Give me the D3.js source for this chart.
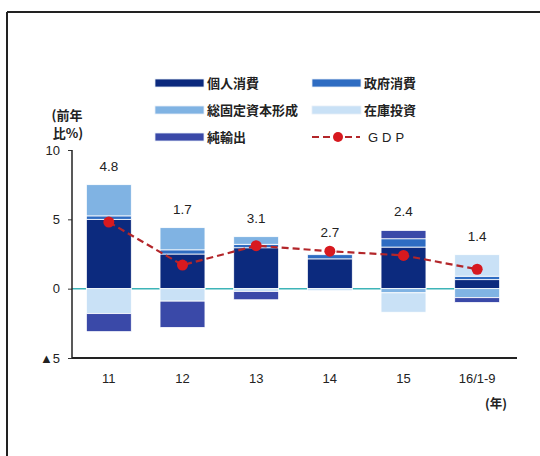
<!DOCTYPE html>
<html>
<head>
<meta charset="utf-8">
<script src="https://cdn.jsdelivr.net/npm/d3@7"></script>
<style>
  body { margin: 0; background: #fff; }
  svg { display: block; }
  .tick text { font-family: "Liberation Sans", Arial, sans-serif; font-size: 13px; fill: #222; }
</style>
</head>
<body>
<svg id="chart" width="540" height="456"></svg>
<script>
// categories & series (前年比%, 寄与度)
const years = ["11", "12", "13", "14", "15", "16/1-9"];
const personal = [5.0, 2.5, 2.95, 2.15, 3.0, 0.65];     // 個人消費
const government = [0.25, 0.3, 0.25, 0.3, 0.6, 0.25];   // 政府消費
const gfcf = [2.25, 1.6, 0.55, 0, -0.3, -0.65];         // 総固定資本形成
const inventory = [-1.8, -0.9, -0.2, -0.15, -1.4, 1.55]; // 在庫投資
const netExports = [-1.3, -1.9, -0.6, 0, 0.6, -0.35];   // 純輸出
const gdp = [4.8, 1.7, 3.1, 2.7, 2.4, 1.4];
const yTicks = [-5, 0, 5, 10];

const keys = ["個人消費", "政府消費", "総固定資本形成", "在庫投資", "純輸出"];
const colors = {
  "個人消費": "#0c2a7e",
  "政府消費": "#2e6cc2",
  "総固定資本形成": "#80b3e3",
  "在庫投資": "#c9e1f6",
  "純輸出": "#3a49a8",
};

const rows = years.map((yr, i) => ({
  year: yr,
  "個人消費": personal[i],
  "政府消費": government[i],
  "総固定資本形成": gfcf[i],
  "在庫投資": inventory[i],
  "純輸出": netExports[i],
  gdp: gdp[i],
}));

const svg = d3.select("#chart");
const jp = `"Noto Sans CJK JP", "Noto Sans", sans-serif`;
const latin = `"Liberation Sans", Arial, sans-serif`;

// frame
svg.append("line").attr("x1", 7).attr("y1", 12).attr("x2", 540).attr("y2", 12)
  .attr("stroke", "#222").attr("stroke-width", 2);
svg.append("line").attr("x1", 7).attr("y1", 12).attr("x2", 7).attr("y2", 456)
  .attr("stroke", "#222").attr("stroke-width", 2);

const x = d3.scaleBand().domain(years).range([72, 514])
  .paddingInner(0.39).paddingOuter(0.195);
const y = d3.scaleLinear().domain([-5, 10]).range([358, 150]);

const series = d3.stack().keys(keys).offset(d3.stackOffsetDiverging)(rows);

// zero line
svg.append("line")
  .attr("x1", 72).attr("x2", x(years[years.length - 1]) + x.bandwidth())
  .attr("y1", y(0)).attr("y2", y(0))
  .attr("stroke", "#3db4b8").attr("stroke-width", 1.5);

// bars
svg.append("g").selectAll("g").data(series).join("g")
  .attr("fill", (s) => colors[s.key])
  .selectAll("rect").data((s) => s).join("rect")
  .attr("x", (d) => x(d.data.year))
  .attr("width", x.bandwidth())
  .attr("y", (d) => y(Math.max(d[0], d[1])))
  .attr("height", (d) => Math.abs(y(d[0]) - y(d[1])))
  .attr("stroke", "#fff").attr("stroke-width", 0.8);

// axes
const yAxisG = svg.append("g").attr("transform", "translate(72,0)")
  .call(d3.axisLeft(y).tickValues(yTicks).tickSize(4).tickPadding(8)
    .tickFormat((d) => (d < 0 ? "▲" + Math.abs(d) : d)));
yAxisG.select(".domain").remove();
yAxisG.selectAll(".tick line").attr("stroke", "#333");
svg.append("line").attr("x1", 72).attr("x2", 72).attr("y1", y(10)).attr("y2", y(-5))
  .attr("stroke", "#222").attr("stroke-width", 1.5);

const xAxisG = svg.append("g").attr("transform", `translate(0,${y(-5)})`)
  .call(d3.axisBottom(x).tickSize(0).tickPadding(16));
xAxisG.select(".domain").remove();
svg.append("line").attr("x1", 72).attr("x2", 517).attr("y1", y(-5)).attr("y2", y(-5))
  .attr("stroke", "#222").attr("stroke-width", 2);

svg.append("text").attr("x", 496).attr("y", 408).attr("text-anchor", "middle")
  .style("font-family", jp).style("font-size", "12.5px").style("font-weight", 700)
  .attr("fill", "#222").text("(年)");

svg.append("text").attr("x", 67).attr("y", 120).attr("text-anchor", "middle")
  .style("font-family", jp).style("font-size", "13px").style("font-weight", 700)
  .attr("fill", "#222").text("(前年");
svg.append("text").attr("x", 68).attr("y", 138).attr("text-anchor", "middle")
  .style("font-family", jp).style("font-size", "13px").style("font-weight", 700)
  .attr("fill", "#222").text("比%)");

// GDP line
const cx = (d) => x(d.year) + x.bandwidth() / 2;
svg.append("path").datum(rows)
  .attr("fill", "none").attr("stroke", "#b3262a").attr("stroke-width", 2.2)
  .attr("stroke-dasharray", "7,4")
  .attr("d", d3.line().x(cx).y((d) => y(d.gdp)));
svg.append("g").selectAll("circle").data(rows).join("circle")
  .attr("cx", cx).attr("cy", (d) => y(d.gdp)).attr("r", 5.5)
  .attr("fill", "#d7191f");

// value labels
const topOf = (i) => d3.max(series, (s) => s[i][1]);
svg.append("g").selectAll("text").data(rows).join("text")
  .attr("x", cx)
  .attr("y", (d, i) => y(Math.max(topOf(i), d.gdp)) - 14)
  .attr("text-anchor", "middle")
  .style("font-family", latin).style("font-size", "13.5px")
  .attr("fill", "#222")
  .text((d) => d3.format(".1f")(d.gdp));

// legend
const legendItems = [
  { key: "個人消費", x: 155, y: 83 },
  { key: "政府消費", x: 312, y: 83 },
  { key: "総固定資本形成", x: 155, y: 110 },
  { key: "在庫投資", x: 312, y: 110 },
  { key: "純輸出", x: 155, y: 137 },
];
const lg = svg.append("g");
legendItems.forEach((it) => {
  lg.append("rect").attr("x", it.x).attr("y", it.y - 4).attr("width", 49).attr("height", 8)
    .attr("fill", colors[it.key]).attr("stroke", "#e6eef8").attr("stroke-width", 0.8);
  lg.append("text").attr("x", it.x + 52).attr("y", it.y + 5)
    .style("font-family", jp).style("font-size", "13px").style("font-weight", 700)
    .attr("fill", "#222").text(it.key);
});
lg.append("line").attr("x1", 312).attr("x2", 360).attr("y1", 137).attr("y2", 137)
  .attr("stroke", "#b3262a").attr("stroke-width", 2).attr("stroke-dasharray", "7,4");
lg.append("circle").attr("cx", 338).attr("cy", 137).attr("r", 5).attr("fill", "#d7191f");
lg.append("text").attr("x", 368).attr("y", 142)
  .style("font-family", latin).style("font-size", "13px").style("letter-spacing", "4px")
  .attr("fill", "#222").text("GDP");
</script>
</body>
</html>
